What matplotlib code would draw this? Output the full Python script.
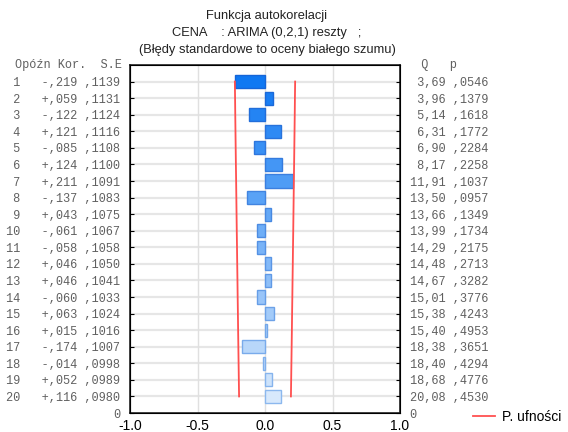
import matplotlib
matplotlib.use("Agg")
import matplotlib.pyplot as plt
import numpy as np
from matplotlib.colors import to_rgb

lags = list(range(1, 21))
kor = [-0.219, 0.059, -0.122, 0.121, -0.085, 0.124, 0.211, -0.137, 0.043, -0.061,
       -0.058, 0.046, 0.046, -0.060, 0.063, 0.015, -0.174, -0.014, 0.052, 0.116]
se = [0.1139, 0.1131, 0.1124, 0.1116, 0.1108, 0.1100, 0.1091, 0.1083, 0.1075, 0.1067,
      0.1058, 0.1050, 0.1041, 0.1033, 0.1024, 0.1016, 0.1007, 0.0998, 0.0989, 0.0980]
q = [3.69, 3.96, 5.14, 6.31, 6.90, 8.17, 11.91, 13.50, 13.66, 13.99,
     14.29, 14.48, 14.67, 15.01, 15.38, 15.40, 18.38, 18.40, 18.68, 20.08]
p = [0.0546, 0.1379, 0.1618, 0.1772, 0.2284, 0.2258, 0.1037, 0.0957, 0.1349, 0.1734,
     0.2175, 0.2713, 0.3282, 0.3776, 0.4243, 0.4953, 0.3651, 0.4294, 0.4776, 0.4530]


def pl(x, digits):
    # polish style: comma decimal, no leading zero
    s = f"{abs(x):.{digits}f}".replace(".", ",")
    return s[1:] if s.startswith("0") else s


n = len(lags)
pos = np.array([n + 1 - k for k in lags])

left_labels = [f"{k:>2}   {'-' if r < 0 else '+'}{pl(r, 3)} {pl(s, 4)}"
               for k, r, s in zip(lags, kor, se)]
right_labels = [f"{pl(a, 2):>5} {pl(b, 4)}" for a, b in zip(q, p)]

txt_col = "#606060"

fig = plt.figure(figsize=(5.68, 4.32), dpi=100)
ax = fig.add_axes([130 / 568, 1 - 413 / 432, 270 / 568, 348 / 432])

c0 = np.array(to_rgb("#0f78f2"))
c1 = np.array(to_rgb("#d8e9fc"))
cols = [tuple(c0 + (c1 - c0) * i / (n - 1)) for i in range(n)]
e0 = np.array(to_rgb("#1565d8"))
e1 = np.array(to_rgb("#8cb8ee"))
ecols = [tuple(e0 + (e1 - e0) * i / (n - 1)) for i in range(n)]

ax.barh(pos, kor, height=0.8, color=cols, edgecolor=ecols, linewidth=1, zorder=3)

lim = 1.96 * np.array(se)
ax.plot(-lim, pos, color="#ff5050", lw=1.3, zorder=4)
ax.plot(lim, pos, color="#ff5050", lw=1.3, zorder=4, label="P. ufności")

ax.set_xlim(-1, 1)
ax.set_ylim(0, n + 1)
ax.set_xticks([-1, -0.5, 0, 0.5, 1])
ax.set_xticklabels(["-1.0", "-0.5", "0.0", "0.5", "1.0"], fontsize=10,
                   family="Liberation Sans")
ax.tick_params(axis="x", length=0, pad=4)
ax.grid(axis="x", color="#e0e0e0", lw=1)
for y in pos:
    ax.axhline(y, color="#e6e6e6", lw=1.6, zorder=1)

ax.set_yticks(list(pos) + [0])
ax.set_yticklabels(left_labels + ["0"], family="Liberation Mono", fontsize=8.6,
                   color=txt_col)
ax.tick_params(axis="y", direction="in", length=3, pad=7, right=True)
ax2 = ax.twinx()
ax2.set_ylim(0, n + 1)
ax2.set_yticks(list(pos) + [0])
ax2.set_yticklabels(right_labels + ["0"], family="Liberation Mono", fontsize=8.6,
                    color=txt_col)
ax2.tick_params(axis="y", direction="in", length=3, pad=7)

for s in ax.spines.values():
    s.set_color("#222222")
    s.set_linewidth(1.2)

ax.text(-0.03, 1.0, "Opóźn Kor.  S.E", transform=ax.transAxes, ha="right", va="center",
        family="Liberation Mono", fontsize=8.6, color=txt_col)
ax.text(1.026, 1.0, "  Q   p", transform=ax.transAxes, ha="left", va="center",
        family="Liberation Mono", fontsize=8.6, color=txt_col)

fig.text(267 / 568, 1 - 33 / 432,
         "Funkcja autokorelacji\nCENA    : ARIMA (0,2,1) reszty   ;\n(Błędy standardowe to oceny białego szumu)",
         ha="center", va="center", fontsize=9.3, family="Liberation Sans",
         linespacing=1.55, color="#222222")

fig.legend(loc="lower right", bbox_to_anchor=(1.01, -0.01), frameon=False,
           prop={"family": "Liberation Sans", "size": 10}, handlelength=1.6,
           handletextpad=0.5)

fig.savefig("out.png", dpi=100)
